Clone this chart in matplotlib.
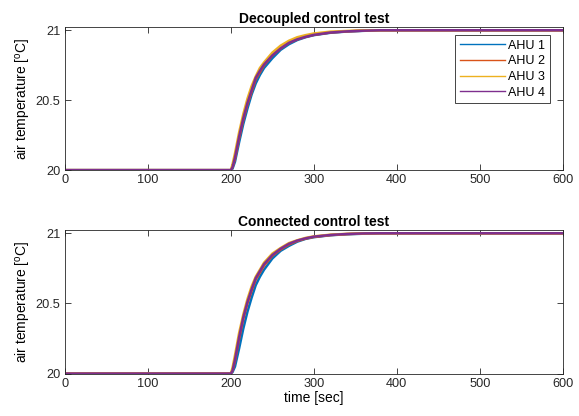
import matplotlib
matplotlib.use("Agg")
import matplotlib.pyplot as plt

plt.rcParams["font.family"] = ["Liberation Sans", "DejaVu Sans"]
plt.rcParams["mathtext.fontset"] = "custom"
plt.rcParams["mathtext.rm"] = "Liberation Sans"

# time axis [sec]
t = [0, 200, 202, 205, 210, 215, 220, 225, 230, 235, 240, 250, 260, 270,
     280, 290, 300, 320, 340, 360, 380, 400, 450, 500, 550, 600]

# Decoupled control test
dec_ahu1 = [20, 20, 20.01, 20.06, 20.20, 20.33, 20.44, 20.54, 20.62, 20.68, 20.73, 20.80,
            20.86, 20.90, 20.93, 20.95, 20.965, 20.982, 20.991, 20.996, 21.0, 21.0, 21.0, 21.0, 21.0, 21.0]
dec_ahu2 = [20, 20, 20.02, 20.08, 20.23, 20.36, 20.47, 20.56, 20.65, 20.70, 20.75, 20.82,
            20.87, 20.91, 20.935, 20.953, 20.967, 20.984, 20.992, 20.997, 21.0, 21.0, 21.0, 21.0, 21.0, 21.0]
dec_ahu3 = [20, 20, 20.04, 20.12, 20.27, 20.40, 20.51, 20.60, 20.67, 20.73, 20.77, 20.84,
            20.89, 20.925, 20.95, 20.965, 20.977, 20.99, 20.995, 21.0, 21.0, 21.0, 21.0, 21.0, 21.0, 21.0]
dec_ahu4 = [20, 20, 20.02, 20.09, 20.24, 20.37, 20.48, 20.57, 20.66, 20.71, 20.755, 20.82,
            20.87, 20.91, 20.935, 20.953, 20.967, 20.984, 20.992, 20.997, 21.0, 21.0, 21.0, 21.0, 21.0, 21.0]

# Connected control test
con_ahu1 = [20, 20, 20.01, 20.05, 20.18, 20.32, 20.44, 20.54, 20.63, 20.69, 20.74, 20.82,
            20.875, 20.91, 20.94, 20.96, 20.972, 20.986, 20.993, 20.997, 21.0, 21.0, 21.0, 21.0, 21.0, 21.0]
con_ahu2 = [20, 20, 20.02, 20.09, 20.25, 20.39, 20.50, 20.59, 20.67, 20.72, 20.77, 20.84,
            20.885, 20.92, 20.945, 20.962, 20.974, 20.987, 20.994, 20.998, 21.0, 21.0, 21.0, 21.0, 21.0, 21.0]
con_ahu3 = [20, 20, 20.04, 20.13, 20.29, 20.42, 20.53, 20.62, 20.69, 20.74, 20.79, 20.855,
            20.895, 20.93, 20.95, 20.967, 20.978, 20.99, 20.996, 21.0, 21.0, 21.0, 21.0, 21.0, 21.0, 21.0]
con_ahu4 = [20, 20, 20.02, 20.10, 20.26, 20.40, 20.51, 20.60, 20.68, 20.73, 20.78, 20.845,
            20.89, 20.925, 20.948, 20.964, 20.976, 20.988, 20.995, 20.999, 21.0, 21.0, 21.0, 21.0, 21.0, 21.0]

labels = ["AHU 1", "AHU 2", "AHU 3", "AHU 4"]
colors = ["#0072BD", "#D95319", "#EDB120", "#7E2F8E"]
xticks = [0, 100, 200, 300, 400, 500, 600]
yticks = [20, 20.5, 21]

fig = plt.figure(figsize=(5.79, 4.16), dpi=100)
ax1 = fig.add_axes([0.112, 0.591, 0.860, 0.343])
ax2 = fig.add_axes([0.112, 0.102, 0.860, 0.344])

panels = [
    (ax1, "Decoupled control test", [dec_ahu1, dec_ahu2, dec_ahu3, dec_ahu4]),
    (ax2, "Connected control test", [con_ahu1, con_ahu2, con_ahu3, con_ahu4]),
]

for ax, title, series in panels:
    for y, c, lab in zip(series, colors, labels):
        ax.plot(t, y, color=c, linewidth=1.8, label=lab)
    ax.set_xlim(0, 600)
    ax.set_ylim(20, 21.02)
    ax.set_xticks(xticks)
    ax.set_yticks(yticks)
    ax.set_yticklabels(["20", "20.5", "21"])
    ax.tick_params(direction="in", top=True, right=True, length=4,
                   labelsize=9.2, colors="#262626", width=0.6, pad=3)
    for s in ax.spines.values():
        s.set_color("#262626")
        s.set_linewidth(0.6)
    ax.set_title(title, fontsize=10, fontweight="bold", pad=3)
    ax.set_ylabel(r"air temperature [$^\mathrm{o}$C]", fontsize=10, labelpad=2)

leg = ax1.legend(loc="upper right", bbox_to_anchor=(0.974, 0.946), borderaxespad=0,
                 fontsize=9, fancybox=False, edgecolor="#262626", framealpha=1,
                 handlelength=3.6, handletextpad=0.3, borderpad=0.35, labelspacing=0.3)
leg.get_frame().set_linewidth(0.6)
for line in leg.get_lines():
    line.set_linewidth(1.0)

ax2.set_xlabel("time [sec]", fontsize=10, labelpad=1)

fig.savefig("out.png", dpi=100)
